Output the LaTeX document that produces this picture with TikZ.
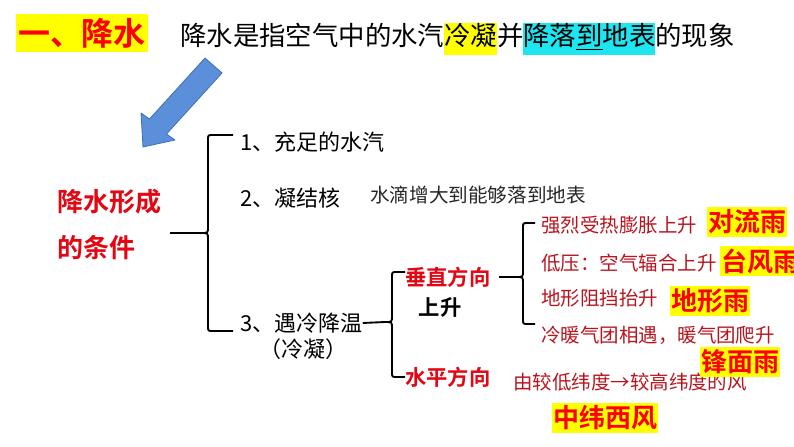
\documentclass[tikz,border=0pt]{standalone}
\usepackage{fontspec}
\setmainfont{Noto Sans CJK SC}[BoldFont=* Bold]
\usetikzlibrary{arrows.meta,positioning,calc}
\definecolor{titlered}{HTML}{FF0000}
\definecolor{deepred}{HTML}{E30613}
\definecolor{thinred}{HTML}{B8141E}
\definecolor{hlyellow}{HTML}{FFFF00}
\definecolor{hlcyan}{HTML}{1EE6F0}
\definecolor{arrowblue}{HTML}{5B8FD9}
\definecolor{arrowedge}{HTML}{3F6FB8}
% highlighted words in the definition line
\newcommand{\hly}[1]{{\fboxsep=0pt\colorbox{hlyellow}{\strut#1}}}
\newcommand{\hlc}[1]{{\fboxsep=0pt\colorbox{hlcyan}{\strut#1}}}
% curly bracket: x, top, middle, bottom, right end
\newcommand{\kuohao}[5]{%
  \draw[kuo] (#5,#2) -- ({#1+5},#2) .. controls (#1,#2) .. (#1,{#2+5}) -- (#1,{#3-6})
    .. controls (#1,#3) .. ({#1-7},#3) .. controls (#1,#3) .. (#1,{#3+6})
    -- (#1,{#4-5}) .. controls (#1,#4) .. ({#1+5},#4) -- (#5,#4);}

\begin{document}
\begin{tikzpicture}[x=0.75pt,y=-0.75pt,
  biaoti/.style={fill=hlyellow,text=titlered,font=\bfseries\fontsize{24}{28}\selectfont,minimum width=99pt,minimum height=29pt,inner sep=0pt},
  yiju/.style={anchor=west,inner sep=0pt,font=\fontsize{19.8}{24}\selectfont},
  tiaojian/.style={anchor=west,inner sep=0pt,text=deepred,font=\bfseries\fontsize{19.5}{23}\selectfont},
  xiang/.style={anchor=west,inner sep=0pt,font=\fontsize{16.5}{20}\selectfont},
  zhu/.style={anchor=west,inner sep=0pt,text=black!85,font=\fontsize{14.7}{18}\selectfont},
  fangxiang/.style={anchor=west,inner sep=0pt,text=deepred,font=\bfseries\fontsize{16}{19}\selectfont},
  yuanyin/.style={anchor=west,inner sep=0pt,text=thinred,font=\fontsize{14.6}{18}\selectfont},
  yu/.style={fill=hlyellow,text=titlered,font=\bfseries\fontsize{19.5}{23}\selectfont,inner xsep=1pt,inner ysep=0pt,minimum height=22pt},
  kuo/.style={draw=black,line width=1.4pt},
  jiantou/.style={fill=arrowblue,draw=arrowedge,line width=0.6pt,line join=round}
  ]
  \useasboundingbox (0,0) rectangle (794,447);
  % title and definition
  \node[biaoti] (title) at (82,33) {一、降水};
  \node[yiju] (dingyi) at (180,39) {降水是指空气中的水汽\hly{冷凝}并\hlc{降落\underline{到}地表}的现象};
  \draw[jiantou] (205,58) -- (222,73) -- (166.5,134) -- (175,140) -- (143,147) -- (141,113) -- (149.5,119) -- cycle;
  % conditions
  \node[tiaojian] (tj1) at (57,202) {降水形成};
  \node[tiaojian] (tj2) at (57,248) {的条件};
  \node[xiang] (c1) at (240,142) {1、充足的水汽};
  \node[xiang] (c2) at (240,198) {2、凝结核};
  \node[zhu] (c2note) at (370,195) {水滴增大到能够落到地表};
  \node[xiang] (c3) at (240,323) {3、遇冷降温};
  \node[xiang,anchor=center] (c3b) at (303,349) {（冷凝）};
  % directions
  \node[fangxiang] (v) at (405,277) {垂直方向};
  \node[fangxiang,text=black,anchor=center] (vup) at (440,307) {上升};
  \node[fangxiang] (h) at (405,377) {水平方向};
  % causes
  \node[yuanyin] (r1) at (541,225) {强烈受热膨胀上升};
  \node[yuanyin] (r2) at (541,263) {低压：空气辐合上升};
  \node[yuanyin] (r3) at (541,298) {地形阻挡抬升};
  \node[yuanyin] (r4) at (541,335) {冷暖气团相遇，暖气团爬升};
  \node[yuanyin] (hwind) at (513,382) {由较低纬度→较高纬度的风};
  % kinds of rain
  \node[yu] (duiliu) at (747,222) {对流雨};
  \node[yu,anchor=west] (taifeng) at (720,261) {台风雨};
  \node[yu] (dixing) at (710,301) {地形雨};
  \node[yu] (fengmian) at (740,362) {锋面雨};
  \node[yu] (xifeng) at (605,418) {中纬西风};
  % brackets
  \kuohao{208}{135}{233}{331}{233}
  \kuohao{392}{272}{322}{377}{405}
  \kuohao{523}{223}{277}{324}{535}
  \coordinate (jian1) at (170,233);
  \coordinate (kb1) at (201,233);
  \coordinate (kb2) at (385,322);
  \coordinate (kb3) at (516,277);
  \draw[kuo] (jian1) -- (kb1);
  \draw[kuo] (c3.east) -- (kb2);
  \draw[kuo,shorten <=6pt] (v.east) -- (kb3);
\end{tikzpicture}
\end{document}
